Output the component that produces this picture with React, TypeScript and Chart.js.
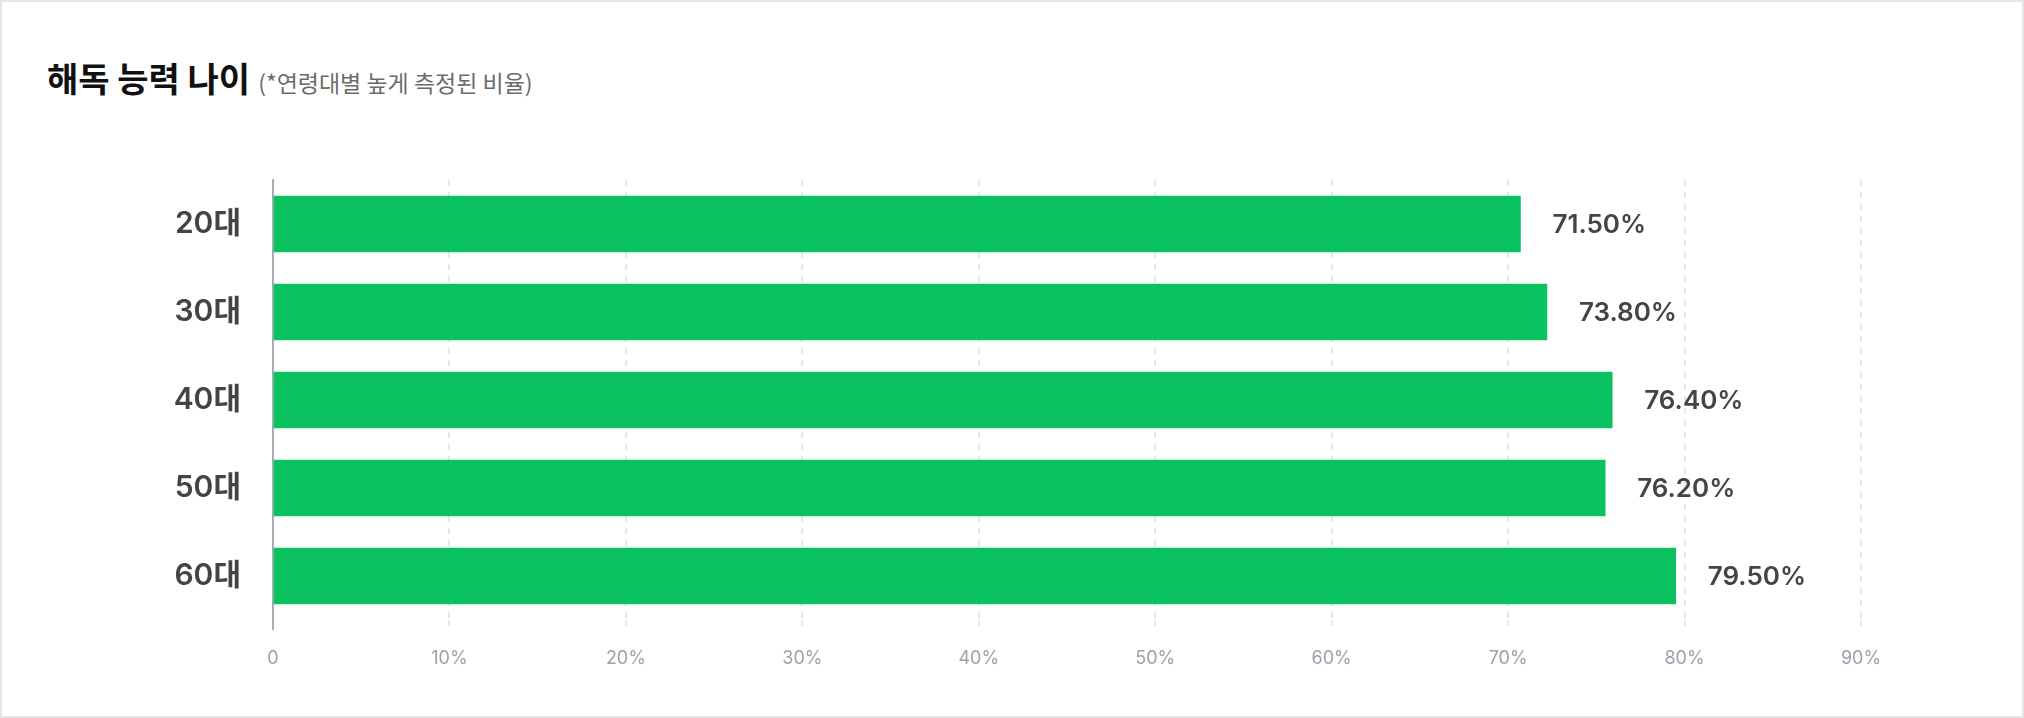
import React, { useEffect, useRef } from "react";
import { Chart, registerables } from "chart.js";

Chart.register(...registerables);

// ---- data ----
const categories = ["20대", "30대", "40대", "50대", "60대"];
const barValues = [70.7, 72.2, 75.9, 75.5, 79.5];
const valueLabels = ["71.50%", "73.80%", "76.40%", "76.20%", "79.50%"];
const xMin = 0;
const xMax = 90;
const xStep = 10;
const titleText = "해독 능력 나이";
const subtitleText = "(*연령대별 높게 측정된 비율)";

const LABEL_FONT = "Inter, 'Noto Sans CJK KR', sans-serif";

const valueLabelPlugin = {
  id: "valueLabelPlugin",
  afterDatasetsDraw(chart: any) {
    const ctx = chart.ctx;
    const meta = chart.getDatasetMeta(0);
    ctx.save();
    ctx.font = `600 26px ${LABEL_FONT}`;
    ctx.fillStyle = "#444444";
    ctx.textAlign = "left";
    ctx.textBaseline = "middle";
    meta.data.forEach((bar: any, i: number) => {
      ctx.fillText(valueLabels[i], bar.x + 32, bar.y + 1);
    });
    ctx.restore();
  },
};

export default function App() {
  const canvasRef = useRef<HTMLCanvasElement | null>(null);

  useEffect(() => {
    document.body.style.margin = "0";
    const canvas = canvasRef.current;
    if (!canvas) return;
    const gridLight = "#e4e7eb";
    const axisGray = "#a9aeb6";
    const chart = new Chart(canvas, {
      type: "bar",
      data: {
        labels: categories,
        datasets: [
          {
            data: barValues,
            backgroundColor: "#0bc261",
            borderWidth: 0,
            barThickness: 56,
          },
        ],
      },
      plugins: [valueLabelPlugin],
      options: {
        indexAxis: "y",
        animation: false,
        responsive: false,
        maintainAspectRatio: false,
        devicePixelRatio: 1,
        layout: {
          padding: { top: 178, right: 161, bottom: 26, left: 0 },
        },
        plugins: {
          legend: { display: false },
          tooltip: { enabled: false },
          title: { display: false },
        },
        scales: {
          x: {
            type: "linear",
            min: xMin,
            max: xMax,
            afterFit: (scale: any) => {
              scale.height = 70;
            },
            ticks: {
              stepSize: xStep,
              padding: 18,
              color: "#9aa2ad",
              font: { family: LABEL_FONT, size: 18, weight: "400" },
              callback: (v: any) => (Number(v) === 0 ? "0" : `${v}%`),
            },
            grid: {
              display: true,
              drawOnChartArea: true,
              drawTicks: true,
              tickLength: 10,
              lineWidth: 2,
              color: (c: any) => (c.index === 0 ? "rgba(0,0,0,0)" : gridLight),
              tickColor: (c: any) => (c.index === 0 ? axisGray : gridLight),
              tickWidth: 2,
              tickBorderDash: (c: any) => (c.index === 0 ? [] : [6, 6]),
              borderDash: [6, 6],
            } as any,
            border: { display: false, dash: [6, 6] },
          },
          y: {
            type: "category",
            afterFit: (scale: any) => {
              scale.width = 271;
            },
            ticks: {
              padding: 32,
              color: "#444444",
              font: { family: LABEL_FONT, size: 30, weight: "600" },
            },
            grid: { display: false, drawTicks: false },
            border: { display: true, color: axisGray, width: 2 },
          },
        },
      } as any,
    });
    return () => chart.destroy();
  }, []);

  return (
    <div
      style={{
        position: "relative",
        width: 2024,
        height: 718,
        boxSizing: "border-box",
        border: "2px solid #e5e5e5",
        background: "#ffffff",
        overflow: "hidden",
      }}
    >
      <div
        style={{
          position: "absolute",
          left: 45,
          top: 57,
          display: "flex",
          alignItems: "baseline",
          whiteSpace: "nowrap",
          fontFamily: "'Noto Sans CJK KR', sans-serif",
          lineHeight: "38px",
        }}
      >
        <span style={{ fontSize: 34, fontWeight: 700, color: "#111111" }}>{titleText}</span>
        <span style={{ fontSize: 23, fontWeight: 400, color: "#6b6b6b", marginLeft: 8 }}>
          {subtitleText}
        </span>
      </div>
      <canvas
        ref={canvasRef}
        width={2020}
        height={714}
        style={{ position: "absolute", left: 0, top: 0, width: 2020, height: 714 }}
      />
    </div>
  );
}
